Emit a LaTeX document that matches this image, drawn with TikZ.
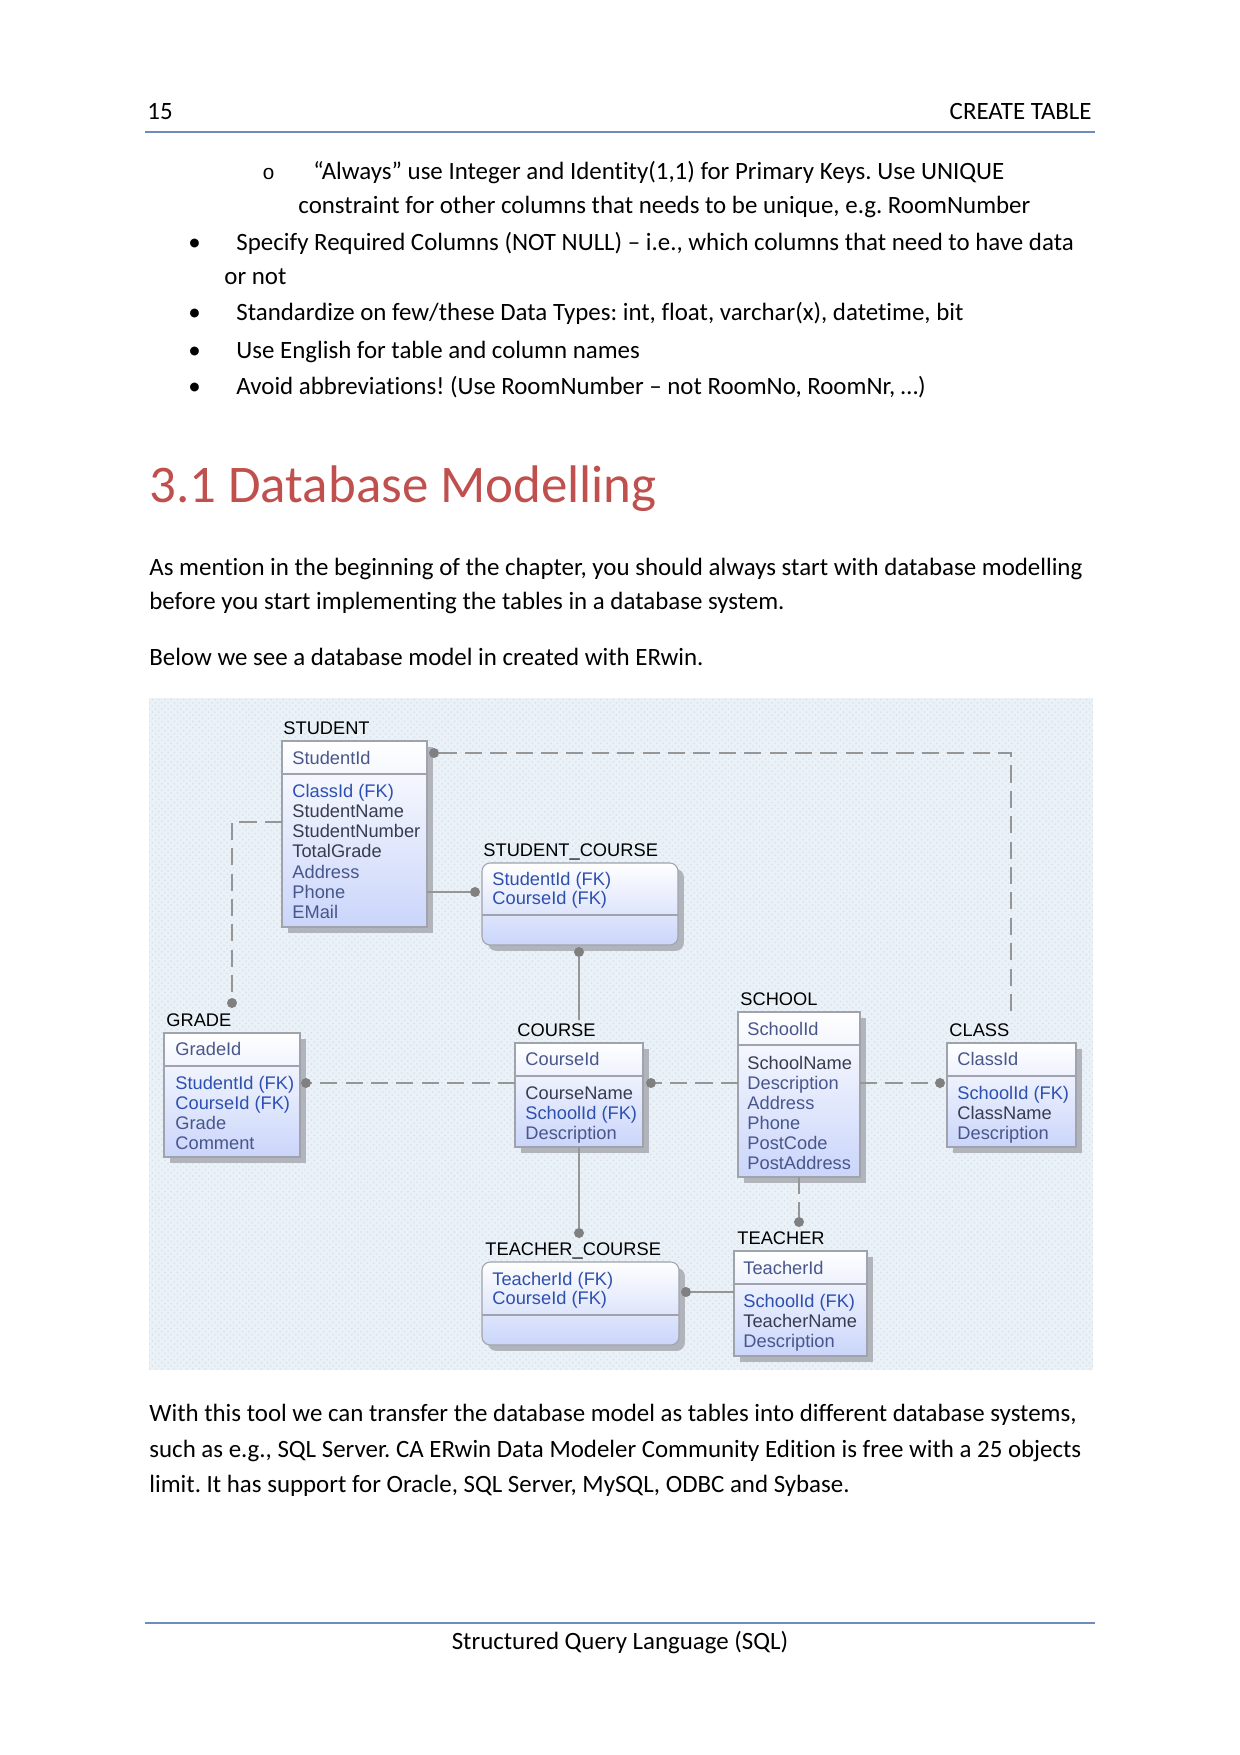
\documentclass[tikz,border=0pt]{standalone}
\usepackage{fontspec}
\setmainfont{Carlito}[Ligatures=NoCommon]
\newfontfamily\erfont{Liberation Sans}
\newfontfamily\bulletmono{Liberation Mono}
\usetikzlibrary{shadows,patterns}
\frenchspacing

\definecolor{hdrRule}{RGB}{110,140,190}
\definecolor{headRed}{RGB}{192,80,77}
\definecolor{erBg}{RGB}{234,242,248}
\definecolor{erDots}{RGB}{218,228,238}
\definecolor{erLine}{RGB}{150,150,150}
\definecolor{erDot}{RGB}{128,128,128}
\definecolor{erBorder}{RGB}{160,162,172}
\definecolor{erShadow}{RGB}{178,180,188}
\definecolor{erFill}{RGB}{202,213,250}
\definecolor{erFK}{RGB}{45,80,175}
\definecolor{erNm}{RGB}{55,60,80}
\definecolor{erOpt}{RGB}{72,86,140}

\newdimen\erpx \erpx=0.16935mm
\newcommand\erfk[1]{\textcolor{erFK}{#1}}
\newcommand\ernm[1]{\textcolor{erNm}{#1}}

\tikzset{
	txt/.style={anchor=base west, inner sep=0, font=\fontsize{12}{14}\selectfont},
	ent/.style={draw=erBorder, line width=0.5pt, top color=white, bottom color=erFill, inner sep=0, outer sep=0,
		drop shadow={shadow xshift=1mm, shadow yshift=-1mm, fill=erShadow, opacity=1}},
	assoc/.style={ent, rounded corners=1.4mm},
	enttitle/.style={anchor=base west, inner sep=0, font=\erfont\fontsize{8.8}{10}\selectfont},
	row/.style={enttitle, text=erOpt},
	div/.style={draw=erBorder, line width=0.5pt},
	rel/.style={draw=erLine, line width=0.8pt},
	reldash/.style={rel, dash pattern=on 2.9mm off 1.4mm},
	reldot/.style={circle, fill=erDot, inner sep=0, minimum size=10\erpx},
}

\begin{document}
\begin{tikzpicture}[x=0.16935mm, y=-0.16935mm]
	\useasboundingbox (0,0) rectangle (1240,1755);

	% page header
	\node[txt] (hdrNum) at (147,119) {15};
	\node[txt, anchor=base east] (hdrTitle) at (1092,119) {CREATE TABLE};
	\draw[hdrRule, line width=0.6pt] (145,132) -- (1095,132);

	% bullet list
	\node[txt, font=\bulletmono\fontsize{10}{12}\selectfont] (subMark) at (262,179) {o};
	\node[txt] (sub1) at (313,179) {“Always” use Integer and Identity(1,1) for Primary Keys. Use UNIQUE};
	\node[txt] (sub2) at (298,213) {constraint for other columns that needs to be unique, e.g. RoomNumber};
	\foreach \y [count=\i] in {250,320,358,394}
		\node[txt] (bul\i) at (188,\y) {•};
	\node[txt] (item1) at (236,250) {Specify Required Columns (NOT NULL) – i.e., which columns that need to have data};
	\node[txt] (item1b) at (224,284) {or not};
	\node[txt] (item2) at (236,320) {Standardize on few/these Data Types: int, float, varchar(x), datetime, bit};
	\node[txt] (item3) at (236,358) {Use English for table and column names};
	\node[txt] (item4) at (236,394) {Avoid abbreviations! (Use RoomNumber – not RoomNo, RoomNr, …)};

	% section
	\node[txt, font=\fontsize{25.5}{30}\selectfont, text=headRed] (secHead) at (149,502) {3.1 Database Modelling};
	\node[txt] (par1) at (149,575) {As mention in the beginning of the chapter, you should always start with database modelling};
	\node[txt] (par1b) at (149,609) {before you start implementing the tables in a database system.};
	\node[txt] (par2) at (149,665) {Below we see a database model in created with ERwin.};

	% ERwin model
	\fill[erBg] (149,698) rectangle (1093,1370);
	\fill[pattern=crosshatch dots, pattern color=erDots] (149,698) rectangle (1093,1370);

	% STUDENT
	\node[ent, minimum width=145\erpx, minimum height=186\erpx] (stu) at (354.5,834) {};
	\node[enttitle] (stuT) at (283,734) {STUDENT};
	\draw[div] (282,774) -- (427,774);
	\node[row] (stuK) at (292,764) {StudentId};
	\foreach \t [count=\i from 0] in {\erfk{ClassId (FK)}, \ernm{StudentName}, \ernm{StudentNumber}, \ernm{TotalGrade}, Address, Phone, EMail}
		\node[row] (stuA\i) at (292,797+20.3*\i) {\t};

	% STUDENT_COURSE
	\node[assoc, minimum width=196\erpx, minimum height=82\erpx] (sc) at (580,904) {};
	\node[enttitle] (scT) at (483,856) {STUDENT\_COURSE};
	\draw[div] (482,915) -- (678,915);
	\foreach \t [count=\i from 0] in {\erfk{StudentId (FK)}, \erfk{CourseId (FK)}}
		\node[row] (scK\i) at (492,885+19.5*\i) {\t};

	% GRADE
	\node[ent, minimum width=136\erpx, minimum height=124\erpx] (grd) at (232,1095) {};
	\node[enttitle] (grdT) at (166,1026) {GRADE};
	\draw[div] (164,1066) -- (300,1066);
	\node[row] (grdK) at (175,1055) {GradeId};
	\foreach \t [count=\i from 0] in {\erfk{StudentId (FK)}, \erfk{CourseId (FK)}, Grade, Comment}
		\node[row] (grdA\i) at (175,1089+20.2*\i) {\t};

	% COURSE
	\node[ent, minimum width=128\erpx, minimum height=104\erpx] (crs) at (579,1095) {};
	\node[enttitle] (crsT) at (517,1036) {COURSE};
	\draw[div] (515,1076) -- (643,1076);
	\node[row] (crsK) at (525,1065) {CourseId};
	\foreach \t [count=\i from 0] in {\ernm{CourseName}, \erfk{SchoolId (FK)}, Description}
		\node[row] (crsA\i) at (525,1099+20.2*\i) {\t};

	% SCHOOL
	\node[ent, minimum width=122\erpx, minimum height=165\erpx] (sch) at (799,1094.5) {};
	\node[enttitle] (schT) at (740,1005) {SCHOOL};
	\draw[div] (738,1045) -- (860,1045);
	\node[row] (schK) at (747,1035) {SchoolId};
	\foreach \t [count=\i from 0] in {\ernm{SchoolName}, Description, Address, Phone, PostCode, PostAddress}
		\node[row] (schA\i) at (747,1069+20.1*\i) {\t};

	% CLASS
	\node[ent, minimum width=129\erpx, minimum height=104\erpx] (cls) at (1011.5,1095) {};
	\node[enttitle] (clsT) at (949,1036) {CLASS};
	\draw[div] (947,1076) -- (1076,1076);
	\node[row] (clsK) at (957,1065) {ClassId};
	\foreach \t [count=\i from 0] in {\erfk{SchoolId (FK)}, \ernm{ClassName}, Description}
		\node[row] (clsA\i) at (957,1099+20.2*\i) {\t};

	% TEACHER_COURSE
	\node[assoc, minimum width=197\erpx, minimum height=83\erpx] (tc) at (580.5,1303.5) {};
	\node[enttitle] (tcT) at (485,1255) {TEACHER\_COURSE};
	\draw[div] (482,1315) -- (679,1315);
	\foreach \t [count=\i from 0] in {\erfk{TeacherId (FK)}, \erfk{CourseId (FK)}}
		\node[row] (tcK\i) at (492,1285+19.5*\i) {\t};

	% TEACHER
	\node[ent, minimum width=133\erpx, minimum height=105\erpx] (tch) at (800.5,1303.5) {};
	\node[enttitle] (tchT) at (737,1244) {TEACHER};
	\draw[div] (734,1284) -- (867,1284);
	\node[row] (tchK) at (743,1274) {TeacherId};
	\foreach \t [count=\i from 0] in {\erfk{SchoolId (FK)}, \ernm{TeacherName}, Description}
		\node[row] (tchA\i) at (743,1307+20.2*\i) {\t};

	% relationships
	\node[reldot] (stuDot) at (434,753) {};
	\node[reldot] (scDot) at (475,892) {};
	\node[reldot] (scDotB) at (579,952) {};
	\node[reldot] (grdDot) at (232,1003) {};
	\node[reldot] (grdDotR) at (306,1083) {};
	\node[reldot] (crsDot) at (651,1083) {};
	\node[reldot] (clsDot) at (940,1083) {};
	\node[reldot] (tchDot) at (799,1222) {};
	\node[reldot] (tcDot) at (579,1233) {};
	\node[reldot] (tcDotR) at (686,1292) {};
	\coordinate (clsTop) at (1011,1019);
	\coordinate (crsTop) at (579,1020);
	\coordinate (stuLeft) at (282,822);

	\draw[reldash] (stuDot) -| (clsTop);
	\draw[reldash] (stuLeft) -| (grdDot);
	\draw[rel] (stu.east |- scDot) -- (scDot);
	\draw[rel] (crsTop) -- (scDotB);
	\draw[reldash] (crs.west |- grdDotR) -- (grdDotR);
	\draw[reldash] (sch.west |- crsDot) -- (crsDot);
	\draw[reldash] (sch.east |- clsDot) -- (clsDot);
	\draw[reldash] (sch) -- (tchDot);
	\draw[rel] (crs) -- (tcDot);
	\draw[rel] (tch.west |- tcDotR) -- (tcDotR);

	% text after the model
	\node[txt] (par3) at (149,1421) {With this tool we can transfer the database model as tables into different database systems,};
	\node[txt] (par3b) at (149,1457) {such as e.g., SQL Server. CA ERwin Data Modeler Community Edition is free with a 25 objects};
	\node[txt] (par3c) at (149,1492) {limit. It has support for Oracle, SQL Server, MySQL, ODBC and Sybase.};

	% page footer
	\draw[hdrRule, line width=0.6pt] (145,1623) -- (1095,1623);
	\node[txt, anchor=base] (footTxt) at (620,1649) {Structured Query Language (SQL)};
\end{tikzpicture}
\end{document}
